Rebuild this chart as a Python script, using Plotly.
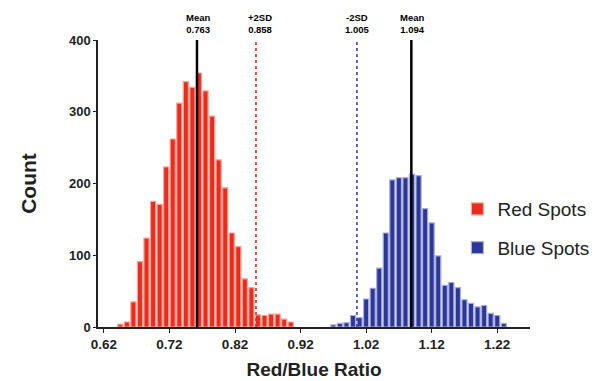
import plotly.graph_objects as go

# ---- data ----
red_bins = [0.645, 0.655, 0.665, 0.675, 0.685, 0.695, 0.705, 0.715, 0.725, 0.735,
            0.745, 0.755, 0.765, 0.775, 0.785, 0.795, 0.805, 0.815, 0.825, 0.835,
            0.845, 0.855, 0.865, 0.875, 0.885, 0.895, 0.905]
red_counts = [4, 7, 35, 91, 124, 175, 171, 223, 262, 312, 342, 334, 354, 329, 294,
              233, 194, 131, 112, 67, 55, 17, 16, 18, 18, 11, 7]

blue_bins = [0.970, 0.980, 0.990, 1.000, 1.010, 1.020, 1.030, 1.040, 1.050, 1.060,
             1.070, 1.080, 1.090, 1.100, 1.110, 1.120, 1.130, 1.140, 1.150, 1.160,
             1.170, 1.180, 1.190, 1.200, 1.210, 1.220, 1.230]
blue_counts = [3, 5, 6, 16, 13, 39, 54, 82, 131, 205, 208, 208, 213, 211, 165, 145,
               99, 58, 62, 55, 38, 33, 28, 30, 19, 16, 5]

x_ticks = [0.62, 0.72, 0.82, 0.92, 1.02, 1.12, 1.22]
x_tick_labels = ["0.62", "0.72", "0.82", "0.92", "1.02", "1.12", "1.22"]
y_ticks = [0, 100, 200, 300, 400]

# reference lines: (line position, label position, label, colour, dash)
ref_lines = [
    (0.762, 0.763, "Mean<br>0.763", "black", "solid"),
    (0.852, 0.858, "+2SD<br>0.858", "#E8281E", "dot"),
    (1.006, 1.006, "-2SD<br>1.005", "#3A3FB0", "dot"),
    (1.089, 1.090, "Mean<br>1.094", "black", "solid"),
]

FONT = "Liberation Sans, Arial, sans-serif"

fig = go.Figure()
fig.add_trace(go.Bar(
    x=red_bins, y=red_counts, name="Red Spots", width=0.0078,
    legendgroup="r",
    marker=dict(color="#EC2A1E", line=dict(color="#F6A494", width=1.2)),
))
fig.add_trace(go.Bar(
    x=blue_bins, y=blue_counts, name="Blue Spots", width=0.0078,
    legendgroup="b",
    marker=dict(color="#2C379C", line=dict(color="#A9ADD8", width=1.2)),
))

for pos, lab_pos, text, col, dash in ref_lines:
    fig.add_shape(type="line", xref="x", yref="y", x0=pos, x1=pos, y0=0, y1=400,
                  line=dict(color=col, width=2.5 if dash == "solid" else 1.6, dash=dash),
                  layer="above")
    fig.add_annotation(x=lab_pos, xref="x", y=1.012, yref="paper", yanchor="bottom",
                       text="<b>" + text + "</b>", showarrow=False,
                       font=dict(family=FONT, size=9.5, color="black"))

# the page body adds an 8px offset, so the figure is 8px smaller in each direction
fig.update_layout(
    width=593, height=373,
    margin=dict(l=90, r=71, t=32, b=54, autoexpand=False),
    paper_bgcolor="white", plot_bgcolor="white",
    barmode="overlay",
    showlegend=True,
    legend=dict(x=0.832, xanchor="left", y=0.343, yanchor="middle",
                traceorder="grouped", tracegroupgap=11,
                font=dict(family=FONT, size=19, color="#222"),
                bgcolor="rgba(0,0,0,0)"),
    font=dict(family=FONT, color="#222"),
)
fig.update_xaxes(
    range=[0.611, 1.27], tickvals=x_ticks, ticktext=x_tick_labels,
    automargin=False,
    showgrid=False, zeroline=False, showline=True, linecolor="#222", linewidth=1.5,
    ticks="outside", ticklen=4, tickcolor="#222", tickwidth=1.2,
    tickfont=dict(family=FONT, size=13.5, color="#222", weight="bold"),
    title=dict(text="<b>Red/Blue Ratio</b>", standoff=12,
               font=dict(family=FONT, size=19, color="#222")),
)
fig.update_yaxes(
    range=[0, 400], tickvals=y_ticks,
    automargin=False,
    showgrid=False, zeroline=False, showline=True, linecolor="#222", linewidth=1.5,
    ticks="outside", ticklen=3, tickcolor="#222", tickwidth=1.2,
    tickfont=dict(family=FONT, size=13, color="#222", weight="bold"),
    title=dict(text="<b>Count</b>", standoff=27,
               font=dict(family=FONT, size=21, color="#222")),
)

fig.write_html("out.html")
